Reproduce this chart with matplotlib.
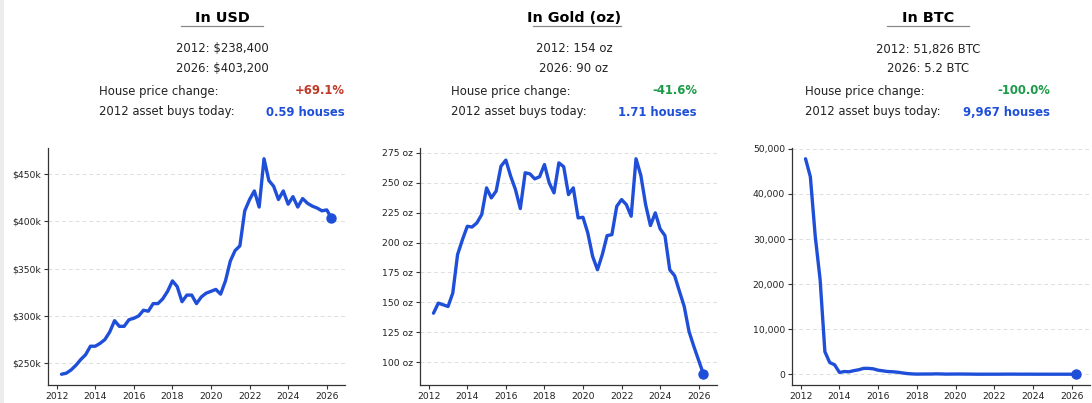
import matplotlib
matplotlib.use("Agg")
import matplotlib.pyplot as plt
import matplotlib.dates as mdates
from matplotlib.ticker import FuncFormatter, FixedLocator
from matplotlib.lines import Line2D
from matplotlib.patches import Rectangle
import pandas as pd

# ---------------- data ----------------
dates = pd.date_range("2012-04-01", "2026-04-01", freq="QS")

usd_k = [238.4, 239.5, 243, 248, 254, 259, 268, 268, 271, 275, 283, 295,
         289, 289, 296, 297.5, 300, 306, 305, 313, 313, 318, 326, 337,
         331, 315, 322, 322, 313, 320, 324, 326, 328, 323, 337, 358,
         369, 374, 411, 423, 432, 415, 466, 443, 437, 423, 432, 418,
         426, 415, 424, 419, 416, 414, 411, 412, 403.2]

gold_oz = [141, 149.4, 148, 146.6, 157.8, 190, 202.4, 213.6, 213, 216.4, 223.4, 245.7,
           237.3, 243, 263.8, 268.9, 255.5, 244.3, 228.4, 258.3, 257.4, 253.2, 255, 265.2,
           249.9, 241.5, 266.6, 263.3, 240.1, 245.7, 220.6, 221.1, 208, 188.5, 177.3, 190,
           205.8, 206.6, 230.3, 235.9, 231.7, 222, 270, 256, 231.7, 214.2, 224.8, 211.4,
           205.8, 177.3, 172.3, 159.2, 146.6, 125.7, 113.1, 101.4, 90]

btc = [47800, 43800, 30600, 21000, 5000, 2600, 2100, 400, 600, 550, 800, 1000,
       1300, 1300, 1200, 900, 750, 600, 550, 450, 300, 150, 76, 26,
       47, 49, 50, 87, 63, 29, 39, 45, 50, 35, 31, 12,
       6.4, 10.7, 9.3, 9, 9.6, 20.8, 23.9, 26.8, 15.6, 13.9, 16, 10,
       6.1, 6.7, 7.1, 4.5, 5.1, 3.9, 3.6, 4.6, 5.2]

titles = ["In USD", "In Gold (oz)", "In BTC"]
line_2012 = ["2012: $238,400", "2012: 154 oz", "2012: 51,826 BTC"]
line_2026 = ["2026: $403,200", "2026: 90 oz", "2026: 5.2 BTC"]
changes = ["+69.1%", "-41.6%", "-100.0%"]
buys = ["0.59 houses", "1.71 houses", "9,967 houses"]

usd_ticks = [250, 300, 350, 400, 450]
gold_ticks = [100, 125, 150, 175, 200, 225, 250, 275]
btc_ticks = [0, 10000, 20000, 30000, 40000, 50000]

# ---------------- style ----------------
W, H = 1092, 403
BLUE = "#1f4fd8"
RED = "#c0392b"
GREEN = "#1b9a48"
TXT = "#222222"

fig = plt.figure(figsize=(W / 100, H / 100), dpi=100)
fig.patch.set_facecolor("white")
fig.patches.append(Rectangle((0, 0), 4 / W, 1, transform=fig.transFigure,
                             facecolor="#ececec", edgecolor="none", zorder=0))

def fx(px):
    return px / W

def fy(py):
    return 1 - py / H

axes_px = [(48, 345), (420, 717), (792, 1090)]
top_px, bot_px = 148, 385
series = [usd_k, gold_oz, btc]
tick_sets = [usd_ticks, gold_ticks, btc_ticks]
fmts = [lambda v, p: f"${v:.0f}k",
        lambda v, p: f"{v:.0f} oz",
        lambda v, p: f"{v:,.0f}"]

for i in range(3):
    l, r = axes_px[i]
    ax = fig.add_axes([fx(l), fy(bot_px), (r - l) / W, (bot_px - top_px) / H])
    ax.plot(dates, series[i], color=BLUE, lw=2.4, solid_capstyle="round", zorder=3)
    ax.plot(dates[-1:], series[i][-1:], "o", color=BLUE, ms=6.5, zorder=4)
    ax.yaxis.set_major_locator(FixedLocator(tick_sets[i]))
    ax.yaxis.set_major_formatter(FuncFormatter(fmts[i]))
    ax.xaxis.set_major_locator(mdates.YearLocator(2))
    ax.xaxis.set_major_formatter(mdates.DateFormatter("%Y"))
    ax.grid(axis="y", color="#dddddd", lw=0.7, ls=(0, (4, 3)))
    ax.set_axisbelow(True)
    for s in ["top", "right"]:
        ax.spines[s].set_visible(False)
    for s in ["left", "bottom"]:
        ax.spines[s].set_color("#333333")
        ax.spines[s].set_linewidth(0.9)
    ax.tick_params(labelsize=6.7, colors="#333333", labelcolor=TXT, length=3, width=0.8, pad=2)

# header texts
title_cx = [222, 574, 928]
ul = [(181, 263), (533, 621), (887, 969)]
lefts = [99, 451, 805]
rights = [345, 697, 1050]
chg_colors = [RED, GREEN, GREEN]

for i in range(3):
    fig.text(fx(title_cx[i]), fy(18), titles[i], ha="center", va="center",
             fontsize=10.4, fontweight="bold", color="black")
    fig.add_artist(Line2D([fx(ul[i][0]), fx(ul[i][1])], [fy(26), fy(26)],
                          transform=fig.transFigure, color="#888888", lw=0.9))
    fig.text(fx(title_cx[i]), fy(49), line_2012[i], ha="center", va="center",
             fontsize=8.4, color=TXT)
    fig.text(fx(title_cx[i]), fy(68), line_2026[i], ha="center", va="center",
             fontsize=8.4, color=TXT)
    fig.text(fx(lefts[i]), fy(91), "House price change:", ha="left", va="center",
             fontsize=8.4, color=TXT)
    fig.text(fx(rights[i]), fy(91), changes[i], ha="right", va="center",
             fontsize=8.4, color=chg_colors[i], fontweight="bold")
    fig.text(fx(lefts[i]), fy(112), "2012 asset buys today:", ha="left", va="center",
             fontsize=8.4, color=TXT)
    fig.text(fx(rights[i]), fy(112), buys[i], ha="right", va="center",
             fontsize=8.4, color=BLUE, fontweight="bold")

fig.savefig("out.png", dpi=100, facecolor="white")
